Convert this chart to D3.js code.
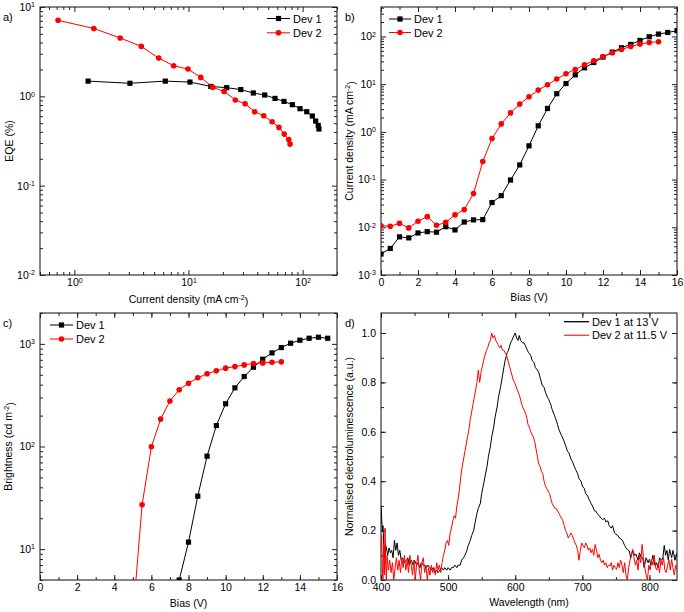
<!DOCTYPE html>
<html><head><meta charset="utf-8">
<script src="https://cdn.jsdelivr.net/npm/d3@7"></script>
<style>body{margin:0;background:#fff} text{font-family:"Liberation Sans",Arial,Helvetica,sans-serif}</style>
</head><body><svg id="c" width="684" height="612"></svg>
<script>
// ---------- DATA ----------
// a) EQE vs current density
const eqeDev1J = [1.32,3.07,6.26,10.3,15.7,21.6,28.7,37,46.5,57.3,68.7,81.3,94.9,108.6,121.6,130,137,139];
const eqeDev1  = [1.48,1.40,1.48,1.445,1.29,1.25,1.19,1.09,1.035,0.948,0.877,0.806,0.727,0.673,0.602,0.529,0.472,0.431];
const eqeDev2J = [0.72,1.48,2.52,3.86,5.48,7.41,9.9,12.8,16.3,20.5,25.7,31.3,38,45.6,54,62,69,75.5,77.6];
const eqeDev2  = [7.1,5.75,4.5,3.62,2.68,2.2,2.02,1.63,1.26,1.135,0.91,0.826,0.673,0.607,0.52,0.449,0.378,0.329,0.292];

// b) current density vs bias
const jvDev1V = [0,0.5,1,1.5,2,2.5,3,3.5,4,4.5,5,5.5,6,6.5,7,7.5,8,8.5,9,9.5,10,10.5,11,11.5,12,12.5,13,13.5,14,14.5,15,15.5,16];
const jvDev1  = [0.00275,0.0036,0.0063,0.0060,0.0076,0.0081,0.0079,0.0103,0.0088,0.0129,0.0143,0.0145,0.033,0.046,0.098,0.203,0.51,1.34,3.09,6.3,10.3,15.7,22,28.4,36.9,47,57.9,68,82.4,98.6,112,121,132];
const jvDev2V = [0,0.5,1,1.5,2,2.5,3,3.5,4,4.5,5,5.5,6,6.5,7,7.5,8,8.5,9,9.5,10,10.5,11,11.5,12,12.5,13,13.5,14,14.5,15];
const jvDev2  = [0.0108,0.0105,0.0121,0.0097,0.0134,0.0167,0.011,0.0127,0.0182,0.0235,0.0508,0.239,0.725,1.47,2.5,3.82,5.43,7.5,9.7,12.8,16.5,20.3,25.5,30.9,37.5,45.5,53.3,61.7,69.2,74.8,77.4];

// c) brightness vs bias
const lvDev1V = [7.5,8,8.5,9,9.5,10,10.5,11,11.5,12,12.5,13,13.5,14,14.5,15,15.5];
const lvDev1  = [5.0,11.7,32.8,80.5,160,261,373,481,593,709,817,921,1015,1086,1135,1161,1135];
const lvDev2V = [5,5.5,6,6.5,7,7.5,8,8.5,9,9.5,10,10.5,11,11.5,12,12.5,13];
const lvDev2  = [2.1,27,99.3,185,278,357,414,467,511,546,580,601,624,643,653,663,668];

// d) normalised electroluminescence spectra
const elDev1WL = [400,401,402,403,404,405,406,407,408,410,412,414,416,418,420,422,424,426,428,430,432,435,438,440,442,445,448,450,453,455,458,460,463,465,468,470,473,475,478,480,483,485,488,490,493,495,498,500,503,505,508,510,513,515,518,520,523,525,528,530,533,535,538,540,543,545,548,550,553,555,558,560,563,565,568,570,573,575,578,580,583,585,588,590,593,595,598,600,602,604,606,608,611,613,615,618,620,623,625,628,630,633,635,638,640,643,645,648,650,653,655,658,660,663,665,668,670,673,675,678,680,683,685,688,690,693,695,698,700,703,705,708,710,713,715,718,720,722,725,728,730,733,735,738,740,743,745,748,750,753,755,758,760,763,765,768,770,772,775,778,780,783,785,788,790,792,795,798,800,802,805,808,810,813,815,818,820,822,824,826,828,830,833,835,838,841];
const elDev1   = [0.30,0.25,0.20,0.22,0.15,0.12,0.09,0.14,0.13,0.10,0.13,0.11,0.12,0.09,0.16,0.12,0.15,0.10,0.12,0.08,0.09,0.07,0.08,0.09,0.06,0.08,0.06,0.08,0.06,0.07,0.05,0.07,0.06,0.06,0.05,0.06,0.05,0.04,0.05,0.03,0.04,0.03,0.04,0.05,0.04,0.05,0.04,0.05,0.04,0.05,0.05,0.06,0.05,0.06,0.06,0.08,0.09,0.10,0.12,0.14,0.16,0.18,0.20,0.23,0.27,0.29,0.31,0.35,0.39,0.42,0.46,0.50,0.54,0.58,0.62,0.66,0.70,0.74,0.78,0.81,0.86,0.89,0.92,0.93,0.96,0.97,0.99,1.0,0.98,0.97,0.99,0.97,0.96,0.96,0.95,0.93,0.92,0.91,0.89,0.88,0.86,0.85,0.84,0.81,0.79,0.78,0.76,0.74,0.73,0.71,0.69,0.67,0.655,0.63,0.61,0.59,0.58,0.56,0.545,0.52,0.515,0.49,0.48,0.46,0.447,0.43,0.41,0.40,0.38,0.37,0.35,0.34,0.326,0.31,0.30,0.28,0.279,0.27,0.26,0.25,0.245,0.25,0.235,0.24,0.22,0.21,0.22,0.19,0.185,0.18,0.17,0.165,0.158,0.14,0.13,0.12,0.117,0.09,0.12,0.10,0.104,0.08,0.11,0.09,0.09,0.05,0.09,0.07,0.084,0.06,0.10,0.06,0.07,0.05,0.09,0.08,0.09,0.14,0.10,0.12,0.08,0.124,0.09,0.12,0.08,0.11];
const elDev2WL = [400,401,402,403,404,405,406,407,408,409,411,413,415,417,419,421,423,425,427,429,431,433,435,437,439,441,443,445,447,449,451,453,455,457,459,461,463,465,467,469,471,473,475,477,479,481,483,485,487,489,491,493,495,497,499,501,503,505,507,509,511,513,515,517,519,521,523,525,527,529,531,533,535,537,539,541,543,545,547,549,551,553,555,557,559,561,563,565,567,569,571,573,575,577,579,581,583,585,587,589,591,593,595,597,599,601,603,605,607,609,611,613,615,617,619,621,623,625,627,629,631,633,635,637,639,641,643,645,647,649,651,653,655,657,659,661,663,665,667,669,671,673,675,677,679,681,683,685,687,689,691,693,695,697,699,701,703,705,707,709,711,713,715,717,719,721,723,725,727,729,731,733,735,737,739,741,743,745,747,749,751,753,755,757,759,761,763,765,767,769,771,773,775,777,779,781,783,785,787,789,791,793,795,797,799,801,803,805,807,809,811,813,815,817,819,821,823,825,827,829,831,833,835,837,839,841];
const elDev2   = [0.12,0.18,0.05,0.0,0.14,0.02,0.21,0.06,0.0,0.10,0.04,0.08,0.03,0.07,0.0,0.05,0.09,0.04,0.08,0.03,0.09,0.05,0.10,0.04,0.08,0.03,0.10,0.06,0.02,0.08,0.0,0.06,0.10,0.04,0.0,0.07,0.09,0.03,0.06,0.0,0.05,0.02,0.06,0.03,0.05,0.02,0.07,0.04,0.06,0.03,0.07,0.10,0.12,0.15,0.16,0.14,0.19,0.21,0.24,0.26,0.25,0.30,0.33,0.37,0.42,0.46,0.49,0.52,0.55,0.58,0.61,0.65,0.68,0.71,0.74,0.77,0.80,0.85,0.80,0.84,0.865,0.89,0.91,0.93,0.94,0.96,0.97,1.0,0.98,0.99,0.97,0.96,0.95,0.94,0.95,0.93,0.93,0.92,0.91,0.89,0.87,0.85,0.83,0.81,0.80,0.785,0.77,0.757,0.74,0.72,0.70,0.69,0.677,0.66,0.63,0.62,0.60,0.59,0.58,0.56,0.53,0.50,0.47,0.46,0.44,0.43,0.40,0.38,0.37,0.36,0.35,0.33,0.31,0.30,0.29,0.29,0.28,0.27,0.26,0.25,0.24,0.22,0.20,0.19,0.17,0.18,0.19,0.18,0.165,0.15,0.14,0.12,0.08,0.12,0.15,0.14,0.13,0.15,0.14,0.12,0.13,0.11,0.124,0.10,0.144,0.12,0.09,0.104,0.08,0.07,0.08,0.06,0.07,0.05,0.06,0.057,0.07,0.04,0.06,0.05,0.043,0.07,0.05,0.08,0.06,0.03,0.07,0.02,0.0,0.05,0.08,0.10,0.124,0.09,0.06,0.08,0.04,0.10,0.07,0.144,0.09,0.05,0.02,0.0,0.06,0.04,0.08,0.06,0.10,0.05,0.04,0.07,0.03,0.08,0.06,0.09,0.04,0.03,0.06,0.08,0.04,0.083,0.05,0.02,0.06,0.04];

// tick values
const aXMajor = [1,10,100];
const aYMajor = [0.01,0.1,1,10];
const bXMajor = [0,2,4,6,8,10,12,14,16];
const bYMajor = [0.001,0.01,0.1,1,10,100];
const cXMajor = [0,2,4,6,8,10,12,14,16];
const cYMajor = [10,100,1000];
const dXMajor = [400,500,600,700,800];
const dYMajor = [0.0,0.2,0.4,0.6,0.8,1.0];

// ---------- DRAWING ----------
const svg = d3.select('#c');
const FS = 10.5;
const RED = '#ff0000', BLK = '#000000', FRAME = '#222';

function logMinors(lo, hi){
  const out=[];
  for(let e=Math.floor(Math.log10(lo)); e<=Math.ceil(Math.log10(hi)); e++){
    for(let k=2;k<=9;k++){ const v=k*Math.pow(10,e); if(v>=lo*0.999 && v<=hi*1.001) out.push(v); }
  }
  return out;
}
function linMinors(lo, hi, step){
  const out=[]; const n=Math.round((hi-lo)/step);
  for(let i=0;i<=n;i++) out.push(+(lo+i*step).toFixed(6));
  return out;
}
function supify(g){
  g.selectAll('.tick text').each(function(d){
    const t=d3.select(this); const e=Math.round(Math.log10(d));
    t.text(null);
    t.append('tspan').text('10');
    t.append('tspan').attr('dy','-0.5em').attr('font-size','7px').text(e);
  });
}

function makePanel(p){
  const g = svg.append('g');
  const clipId = 'clip_'+p.name;
  svg.append('defs').append('clipPath').attr('id',clipId).append('rect')
    .attr('x',p.x0).attr('y',p.y0).attr('width',p.x1-p.x0).attr('height',p.y1-p.y0);
  const x = p.xScale.range([p.x0,p.x1]);
  const y = p.yScale.range([p.y1,p.y0]);

  const style = a => a.call(s=>s.select('.domain').remove())
      .call(s=>s.selectAll('line').attr('stroke',FRAME))
      .call(s=>s.selectAll('text').attr('font-size',FS).attr('fill','#000').attr('font-family','"Liberation Sans",Arial,sans-serif'));

  // minor ticks
  g.append('g').attr('transform',`translate(0,${p.y1})`).call(d3.axisBottom(x).tickValues(p.xMinor).tickSize(-3).tickFormat('')).call(style);
  g.append('g').attr('transform',`translate(0,${p.y0})`).call(d3.axisTop(x).tickValues(p.xMinor).tickSize(-3).tickFormat('')).call(style);
  g.append('g').attr('transform',`translate(${p.x0},0)`).call(d3.axisLeft(y).tickValues(p.yMinor).tickSize(-3).tickFormat('')).call(style);
  g.append('g').attr('transform',`translate(${p.x1},0)`).call(d3.axisRight(y).tickValues(p.yMinor).tickSize(-3).tickFormat('')).call(style);
  // major ticks
  const xb = g.append('g').attr('transform',`translate(0,${p.y1})`).call(d3.axisBottom(x).tickValues(p.xMajor).tickSize(-5).tickPadding(4).tickFormat(p.xFmt)).call(style);
  g.append('g').attr('transform',`translate(0,${p.y0})`).call(d3.axisTop(x).tickValues(p.xMajor).tickSize(-5).tickFormat('')).call(style);
  const yl = g.append('g').attr('transform',`translate(${p.x0},0)`).call(d3.axisLeft(y).tickValues(p.yMajor).tickSize(-5).tickPadding(5).tickFormat(p.yFmt)).call(style);
  g.append('g').attr('transform',`translate(${p.x1},0)`).call(d3.axisRight(y).tickValues(p.yMajor).tickSize(-5).tickFormat('')).call(style);
  if(p.xLog) supify(xb);
  if(p.yLog) supify(yl);

  // frame
  g.append('rect').attr('x',p.x0).attr('y',p.y0).attr('width',p.x1-p.x0).attr('height',p.y1-p.y0)
    .attr('fill','none').attr('stroke',FRAME).attr('stroke-width',1.1);

  const plot = g.append('g').attr('clip-path',`url(#${clipId})`);
  p.series.forEach(s=>{
    const pts = s.xs.map((v,i)=>[v,s.ys[i]]);
    plot.append('path').datum(pts).attr('fill','none').attr('stroke',s.color).attr('stroke-width',s.lw||1)
      .attr('stroke-linejoin','round')
      .attr('d',d3.line().x(d=>x(d[0])).y(d=>y(d[1])));
    if(s.marker==='square'){
      plot.selectAll(null).data(pts).enter().append('rect')
        .attr('x',d=>x(d[0])-2.6).attr('y',d=>y(d[1])-2.6).attr('width',5.2).attr('height',5.2).attr('fill',s.color);
    } else if(s.marker==='circle'){
      plot.selectAll(null).data(pts).enter().append('circle')
        .attr('cx',d=>x(d[0])).attr('cy',d=>y(d[1])).attr('r',2.8).attr('fill',s.color);
    }
  });

  // legend
  p.legend.items.forEach((it,i)=>{
    const ly = p.legend.y + i*p.legend.dy;
    const lx = p.legend.x;
    g.append('line').attr('x1',lx).attr('x2',lx+p.legend.len).attr('y1',ly).attr('y2',ly)
      .attr('stroke',it.color).attr('stroke-width',it.marker?1:1.3);
    const mx = lx + p.legend.len/2;
    if(it.marker==='square') g.append('rect').attr('x',mx-2.6).attr('y',ly-2.6).attr('width',5.2).attr('height',5.2).attr('fill',it.color);
    if(it.marker==='circle') g.append('circle').attr('cx',mx).attr('cy',ly).attr('r',2.8).attr('fill',it.color);
    g.append('text').attr('x',lx+p.legend.len+3).attr('y',ly+4).attr('font-size',11).text(it.label);
  });

  // panel letter
  g.append('text').attr('x',p.letterX).attr('y',p.letterY).attr('font-size',11).text(p.letter);

  // axis titles
  const xt = g.append('text').attr('x',(p.x0+p.x1)/2).attr('y',p.xTitleY).attr('text-anchor','middle').attr('font-size',FS);
  addTitle(xt,p.xTitle);
  const yt = g.append('text').attr('transform',`translate(${p.yTitleX},${(p.y0+p.y1)/2}) rotate(-90)`).attr('text-anchor','middle').attr('font-size',FS);
  addTitle(yt,p.yTitle);
}
function addTitle(t, parts){
  parts.forEach(pt=>{
    if(typeof pt==='string') t.append('tspan').text(pt);
    else if(pt.sup) t.append('tspan').attr('dy','-0.45em').attr('font-size','7px').text(pt.sup);
    else if(pt.after) t.append('tspan').attr('dy','0.45em').text(pt.after);
  });
}

const fmtLin = d=>String(d);

makePanel({name:'a', x0:40,x1:337,y0:7,y1:275,
  xScale:d3.scaleLog().domain([0.5,200]), yScale:d3.scaleLog().domain([0.01,10]), xLog:true, yLog:true,
  xMajor:aXMajor, xMinor:logMinors(0.5,200), yMajor:aYMajor, yMinor:logMinors(0.01,10),
  series:[
    {xs:eqeDev1J, ys:eqeDev1, color:BLK, marker:'square'},
    {xs:eqeDev2J, ys:eqeDev2, color:RED, marker:'circle'}],
  legend:{x:267,y:18.5,dy:14.3,len:23,items:[{label:'Dev 1',color:BLK,marker:'square'},{label:'Dev 2',color:RED,marker:'circle'}]},
  letter:'a)', letterX:3, letterY:21,
  xTitle:['Current density (mA cm',{sup:'-2'},{after:')'}], xTitleY:303,
  yTitle:['EQE (%)'], yTitleX:13
});

makePanel({name:'b', x0:381,x1:677,y0:7,y1:275,
  xScale:d3.scaleLinear().domain([0,16]), yScale:d3.scaleLog().domain([0.001,414]), xLog:false, yLog:true,
  xMajor:bXMajor, xMinor:linMinors(0,16,1), yMajor:bYMajor, yMinor:logMinors(0.001,414),
  xFmt:fmtLin,
  series:[
    {xs:jvDev1V, ys:jvDev1, color:BLK, marker:'square'},
    {xs:jvDev2V, ys:jvDev2, color:RED, marker:'circle'}],
  legend:{x:389,y:19,dy:13.5,len:22,items:[{label:'Dev 1',color:BLK,marker:'square'},{label:'Dev 2',color:RED,marker:'circle'}]},
  letter:'b)', letterX:345, letterY:21,
  xTitle:['Bias (V)'], xTitleY:301,
  yTitle:['Current density (mA cm',{sup:'-2'},{after:')'}], yTitleX:353
});

makePanel({name:'c', x0:40,x1:337,y0:313,y1:580,
  xScale:d3.scaleLinear().domain([0,16]), yScale:d3.scaleLog().domain([5,2000]), xLog:false, yLog:true,
  xMajor:cXMajor, xMinor:linMinors(0,16,1), yMajor:cYMajor, yMinor:logMinors(5,2000),
  xFmt:fmtLin,
  series:[
    {xs:lvDev1V, ys:lvDev1, color:BLK, marker:'square'},
    {xs:lvDev2V, ys:lvDev2, color:RED, marker:'circle'}],
  legend:{x:50,y:325,dy:14,len:23,items:[{label:'Dev 1',color:BLK,marker:'square'},{label:'Dev 2',color:RED,marker:'circle'}]},
  letter:'c)', letterX:3, letterY:327,
  xTitle:['Bias (V)'], xTitleY:607,
  yTitle:['Brightness (cd m',{sup:'-2'},{after:')'}], yTitleX:12
});

makePanel({name:'d', x0:381,x1:677,y0:313,y1:580,
  xScale:d3.scaleLinear().domain([400,841]), yScale:d3.scaleLinear().domain([0,1.081]), xLog:false, yLog:false,
  xMajor:dXMajor, xMinor:linMinors(400,800,50), yMajor:dYMajor, yMinor:linMinors(0,1.0,0.1),
  xFmt:fmtLin, yFmt:d=>d.toFixed(1),
  series:[
    {xs:elDev1WL, ys:elDev1, color:BLK, lw:1},
    {xs:elDev2WL, ys:elDev2, color:RED, lw:1}],
  legend:{x:564,y:321.7,dy:13.6,len:25,items:[{label:'Dev 1 at 13 V',color:BLK},{label:'Dev 2 at 11.5 V',color:'#ff3333'}]},
  letter:'d)', letterX:345, letterY:327,
  xTitle:['Wavelength (nm)'], xTitleY:606,
  yTitle:['Normalised electroluminescence (a.u.)'], yTitleX:353
});
</script>
</body></html>
